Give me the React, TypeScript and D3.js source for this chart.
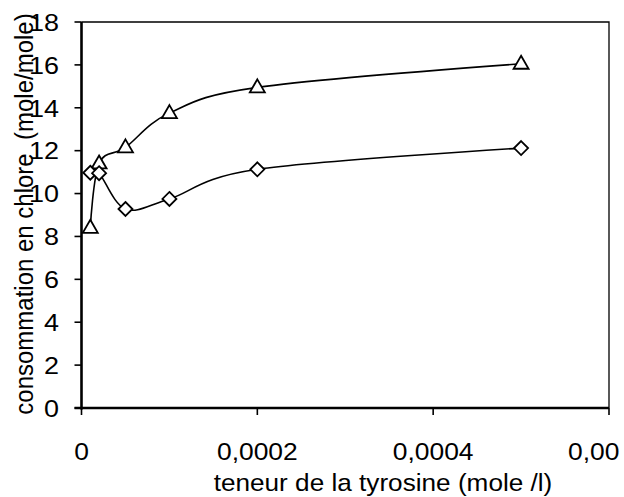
import React from "react";
import * as d3 from "d3";

const xValues = [0.00001, 0.00002, 0.00005, 0.0001, 0.0002, 0.0005];
const triangleSeries = [8.4, 11.4, 12.15, 13.75, 14.95, 16.05];
const diamondSeries = [10.97, 10.95, 9.28, 9.75, 11.13, 12.12];
const xTicks = [0, 0.0002, 0.0004, 0.0006];
const xTickLabels = ["0", "0,0002", "0,0004", "0,00"];
const yTicks = [0, 2, 4, 6, 8, 10, 12, 14, 16, 18];
const xTitle = "teneur de la tyrosine (mole /l)";
const yTitle = "consommation en chlore  (mole/mole)";

const W = 624;
const H = 497;
const left = 81.5;
const right = 609;
const top = 22;
const bottom = 408;
const FONT = "'Liberation Sans', Arial, sans-serif";
const FS = 24;
const SX = 1.1;

export default function App() {
  const x = d3.scaleLinear().domain([0, 0.0006]).range([left, right]);
  const y = d3.scaleLinear().domain([0, 18]).range([bottom, top]);
  const line = d3
    .line<number>()
    .x((_, i) => x(xValues[i]))
    .y((d) => y(d))
    .curve(d3.curveCardinal.tension(0));

  const tri = (cx: number, cy: number) => {
    const w = 7.5;
    const h = 13;
    return `M${cx},${cy - h * 0.62}L${cx + w},${cy + h * 0.38}L${cx - w},${cy + h * 0.38}Z`;
  };
  const dia = (cx: number, cy: number) => {
    const r = 7;
    return `M${cx},${cy - r}L${cx + r},${cy}L${cx},${cy + r}L${cx - r},${cy}Z`;
  };

  return (
    <div style={{ position: "absolute", left: 0, top: 0 }}>
      <svg width={W} height={H} style={{ display: "block", background: "#fff" }}>
        <path
          d={`M${left},${top}H${right}V${bottom}`}
          fill="none"
          stroke="#000"
          strokeWidth={1.3}
        />
        <line x1={left} x2={left} y1={top} y2={bottom + 1.5} stroke="#000" strokeWidth={2.6} />
        {yTicks.map((t) => (
          <g key={"y" + t}>
            <line x1={left - 7} x2={left} y1={y(t)} y2={y(t)} stroke="#000" strokeWidth={1.6} />
            <text
              transform={`translate(59,${y(t)}) scale(${SX},1)`}
              dy="0.36em"
              textAnchor="end"
              fontFamily={FONT}
              fontSize={FS + 0.5}
              fill="#000"
            >
              {t}
            </text>
          </g>
        ))}
        <line x1={left - 7} x2={right} y1={bottom} y2={bottom} stroke="#000" strokeWidth={2.6} />
        {xTicks.map((t, i) => {
          const last = i === xTicks.length - 1;
          return (
            <g key={"x" + t}>
              <line x1={x(t)} x2={x(t)} y1={bottom} y2={bottom + 7} stroke="#000" strokeWidth={1.6} />
              <text
                transform={`translate(${last ? x(t) - 41 : x(t)},460) scale(${SX},1)`}
                textAnchor={last ? "start" : "middle"}
                fontFamily={FONT}
                fontSize={FS}
                fill="#000"
              >
                {xTickLabels[i]}
              </text>
            </g>
          );
        })}
        <path d={line(triangleSeries) || ""} fill="none" stroke="#000" strokeWidth={1.6} />
        <path d={line(diamondSeries) || ""} fill="none" stroke="#000" strokeWidth={1.6} />
        {triangleSeries.map((v, i) => (
          <path key={"t" + i} d={tri(x(xValues[i]), y(v))} fill="#fff" stroke="#000" strokeWidth={1.8} />
        ))}
        {diamondSeries.map((v, i) => (
          <path key={"d" + i} d={dia(x(xValues[i]), y(v))} fill="#fff" stroke="#000" strokeWidth={1.8} />
        ))}
        <text
          transform={`translate(383,491) scale(1.09,1)`}
          textAnchor="middle"
          fontFamily={FONT}
          fontSize={FS}
          fill="#000"
        >
          {xTitle}
        </text>
        <text
          transform={`translate(33,214) scale(1.09,1) rotate(-90)`}
          textAnchor="middle"
          fontFamily={FONT}
          fontSize={FS}
          fill="#000"
          style={{ whiteSpace: "pre" }}
        >
          {yTitle}
        </text>
      </svg>
    </div>
  );
}
